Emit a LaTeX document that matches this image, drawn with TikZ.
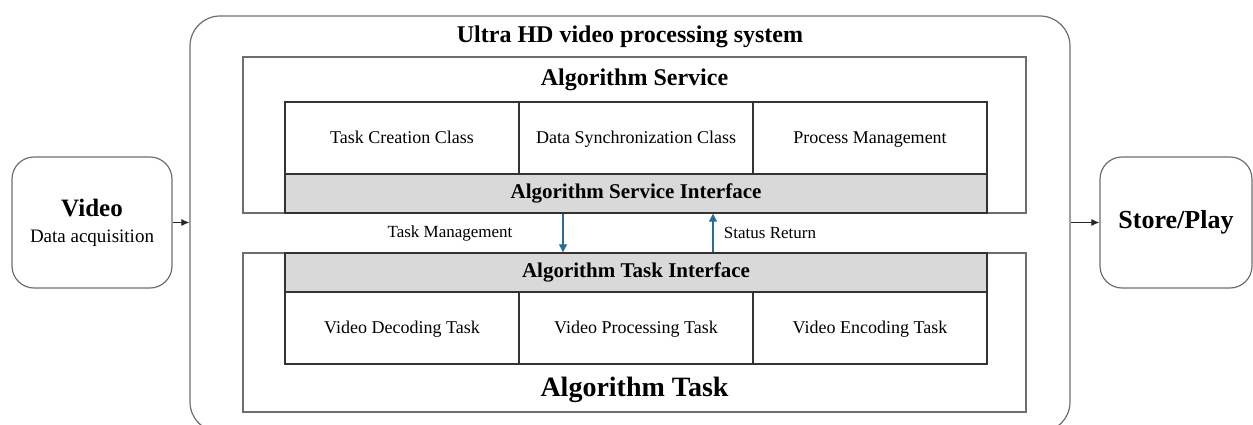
\documentclass[tikz,border=0pt]{standalone}
\usepackage{fontspec}
\setmainfont{Liberation Serif}
\usetikzlibrary{arrows.meta,positioning}

\definecolor{framegray}{RGB}{110,110,110}
\definecolor{bandgray}{RGB}{217,217,217}
\definecolor{flowblue}{RGB}{40,110,155}

\tikzset{
  outerbox/.style={draw=framegray,line width=0.6pt,rounded corners=15pt,inner sep=0pt},
  endbox/.style={draw=framegray,line width=0.6pt,rounded corners=11pt,inner sep=0pt,align=center},
  groupbox/.style={draw=framegray,line width=0.7pt,inner sep=0pt},
  cellbox/.style={draw=black!80,line width=0.7pt,inner sep=0pt,outer sep=0pt,minimum width=117pt,minimum height=36pt,
    text height=1.6ex,text depth=0.45ex,font=\fontsize{9}{11}\selectfont},
  bandbox/.style={draw=black!80,fill=bandgray,line width=0.7pt,inner sep=0pt,outer sep=0pt,minimum width=351pt,minimum height=19.5pt,
    text height=1.6ex,text depth=0.45ex,font=\fontsize{10.5}{12}\selectfont\bfseries},
  title/.style={font=\fontsize{12}{14}\selectfont\bfseries},
  plain/.style={font=\fontsize{8.5}{10}\selectfont},
  feed/.style={-{Latex[length=4pt,width=3.5pt]},line width=0.5pt,black!85},
  flow/.style={-{Triangle[length=4pt,width=4pt]},line width=0.6pt,flowblue}
}

\begin{document}
\begin{tikzpicture}[x=0.5pt,y=-0.5pt]
  \useasboundingbox (0,0) rectangle (1253,424);

  % Set up the outer system and its two groups
  \node[outerbox,minimum width=440pt,minimum height=208pt] (sys) at (630,224) {};
  \node[title] (systitle) at (630,37) {Ultra HD video processing system};
  \node[groupbox,minimum width=391.5pt,minimum height=78pt] (srv) at (634.5,135) {};
  \node[title] (srvtitle) at (634.5,80) {Algorithm Service};
  \node[groupbox,minimum width=391.5pt,minimum height=79.5pt] (tsk) at (634.5,332.5) {};
  \node[title,font=\fontsize{14}{16}\selectfont\bfseries] (tsktitle) at (634.5,390) {Algorithm Task};

  % Service classes and interface
  \node[cellbox] (create) at (402,138) {Task Creation Class};
  \node[cellbox,right=0pt of create] (sync) {Data Synchronization Class};
  \node[cellbox,right=0pt of sync] (proc) {Process Management};
  \node[bandbox,below=0pt of sync] (srvif) {Algorithm Service Interface};

  % Task interface and tasks
  \node[bandbox] (tskif) at (636,272.5) {Algorithm Task Interface};
  \node[cellbox,below=0pt of tskif] (vproc) {Video Processing Task};
  \node[cellbox,left=0pt of vproc] (decode) {Video Decoding Task};
  \node[cellbox,right=0pt of vproc] (encode) {Video Encoding Task};

  % Input and output
  \node[endbox,minimum width=80pt,minimum height=65.5pt] (video) at (92,222.5)
    {{\fontsize{12.5}{15}\selectfont\bfseries Video}\\[1pt]{\fontsize{9.5}{11}\selectfont Data acquisition}};
  \node[endbox,minimum width=76pt,minimum height=65.5pt,font=\fontsize{13}{15}\selectfont\bfseries] (store) at (1176,222.5) {Store/Play};

  % Add the arrows
  \coordinate (tm) at (563,233);
  \coordinate (sr) at (713,233);
  \draw[feed] (video.east) -- (video.east -| sys.west);
  \draw[feed] (store.west -| sys.east) -- (store.west);
  \draw[flow] (srv.south -| tm) -- (tsk.north -| tm);
  \draw[flow] (tsk.north -| sr) -- (srv.south -| sr);
  \node[plain] (tmlabel) at (450,233) {Task Management};
  \node[plain] (srlabel) at (770,233) {Status Return};
\end{tikzpicture}
\end{document}
